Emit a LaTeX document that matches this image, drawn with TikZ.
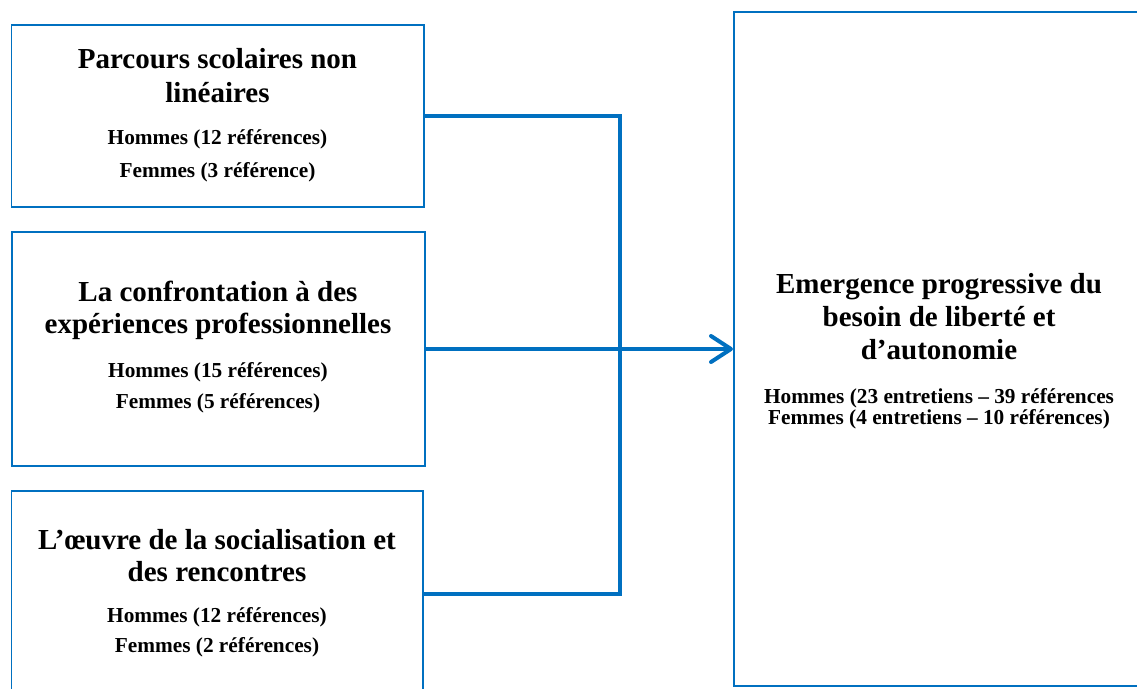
\documentclass[tikz,border=0pt]{standalone}
\usepackage{fontspec}
\setmainfont{Liberation Serif}
\usetikzlibrary{arrows.meta}
\definecolor{boxblue}{HTML}{0070C0}
\tikzset{
  box/.style={draw=boxblue, line width=1.6pt, rectangle, inner sep=0pt, fill=none},
  conn/.style={draw=boxblue, line width=4pt, line join=miter},
  ttl/.style={anchor=base, inner sep=0pt, font=\bfseries\fontsize{29}{33}\selectfont},
  sub/.style={anchor=base, inner sep=0pt, font=\bfseries\fontsize{21.3}{24}\selectfont},
}
\begin{document}
\begin{tikzpicture}[x=1pt,y=-1pt]
\useasboundingbox (0,0) rectangle (1137,688);
\clip (0,0) rectangle (1137,688);
\fill[white] (0,0) rectangle (1137,688);
% boxes
\node[box, minimum width=412.5pt, minimum height=182pt] (b1) at (217.75,116) {};
\node[box, minimum width=413pt, minimum height=234pt] (b2) at (218.5,349) {};
\node[box, minimum width=411.5pt, minimum height=206pt] (b3) at (217.25,594) {};
\node[box, line width=2pt, minimum width=410pt, minimum height=674pt] (rb) at (939,349) {};
% texts box 1
\node[ttl] (t1a) at (217.5,68) {Parcours scolaires non};
\node[ttl] (t1b) at (217.5,102) {linéaires};
\node[sub] (t1c) at (217.5,144) {Hommes (12 références)};
\node[sub] (t1d) at (217.5,177) {Femmes (3 référence)};
% texts box 2
\node[ttl] (t2a) at (218,301) {La confrontation à des};
\node[ttl] (t2b) at (218,333) {expériences professionnelles};
\node[sub] (t2c) at (218,377) {Hommes (15 références)};
\node[sub] (t2d) at (218,408) {Femmes (5 références)};
% texts box 3
\node[ttl] (t3a) at (217,549) {L’œuvre de la socialisation et};
\node[ttl] (t3b) at (217,581) {des rencontres};
\node[sub] (t3c) at (217,622) {Hommes (12 références)};
\node[sub] (t3d) at (217,652) {Femmes (2 références)};
% texts right box
\node[ttl] (r1) at (939,293) {Emergence progressive du};
\node[ttl] (r2) at (939,326) {besoin de liberté et};
\node[ttl] (r3) at (939,359) {d’autonomie};
\node[sub] (r4) at (939,403) {Hommes (23 entretiens – 39 références};
\node[sub] (r5) at (939,424) {Femmes (4 entretiens – 10 références)};
% connectors
\coordinate (j) at (620,349);
\draw[conn] (b1.east) -| (j) |- (b3.east);
\draw[conn, -{Straight Barb[length=20pt,width=26pt,line width=4pt,round]}] (b2.east) -- (rb.west);
\end{tikzpicture}
\end{document}
